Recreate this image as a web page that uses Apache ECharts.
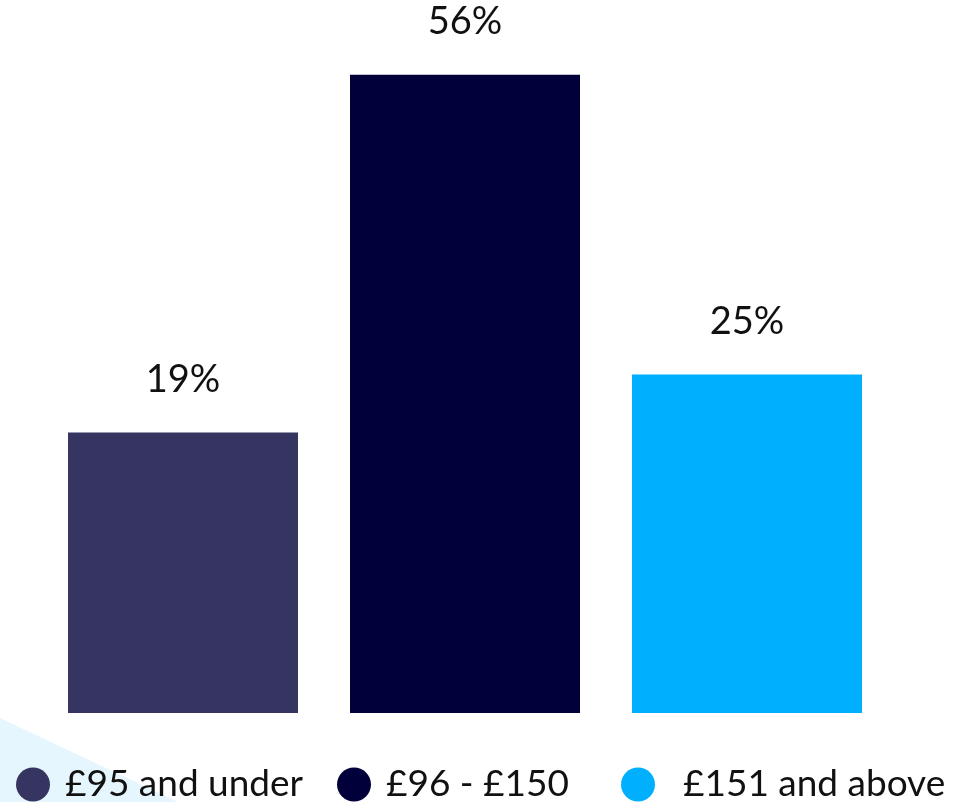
<!DOCTYPE html>
<html>
<head>
<meta charset="utf-8">
<script src="https://cdn.jsdelivr.net/npm/echarts@6/dist/echarts.min.js"></script>
<style>
  html, body { margin: 0; padding: 0; background: #ffffff; }
  #chart { width: 965px; height: 802px; }
</style>
</head>
<body>
<div id="chart"></div>
<script>
// Share of spend by price band
const categories = ['£95 and under', '£96 - £150', '£151 and above'];
const shares = [19, 56, 25];
const colors = ['#363562', '#02003a', '#00b0ff'];

const FONT = 'Lato, "Noto Sans", sans-serif';

const chart = echarts.init(document.getElementById('chart'), null, { renderer: 'canvas' });

// one series per band so each gets its own legend entry; overlapping slots keep bars centred
const series = categories.map((name, i) => ({
  name: name,
  type: 'bar',
  barWidth: 230,
  barGap: '-100%',
  itemStyle: { color: colors[i] },
  label: {
    show: true,
    position: 'top',
    distance: 34,
    formatter: '{c}%',
    fontFamily: FONT,
    fontSize: 38,
    color: '#111111'
  },
  data: categories.map((c, j) => (j === i ? shares[i] : '-'))
}));

const legendX = [16, 337, 621];
const legendTextPad = [10, 10, 23];
const legends = categories.map((name, i) => ({
  data: [{ name: name, icon: 'circle' }],
  left: legendX[i],
  top: 766,
  itemWidth: 34,
  itemHeight: 34,
  itemGap: 0,
  padding: 0,
  textStyle: {
    fontFamily: FONT,
    fontSize: 37,
    color: '#111111',
    padding: [0, 0, 0, legendTextPad[i]]
  }
}));

chart.setOption({
  animation: false,
  backgroundColor: '#ffffff',
  graphic: [{
    type: 'polygon',
    z: -10,
    shape: { points: [[0, 718], [178, 802], [0, 802]] },
    style: { fill: '#e6f6fe' }
  }],
  legend: legends,
  grid: { left: 42, right: 77, top: 36, bottom: 89 },
  xAxis: {
    type: 'category',
    data: categories,
    show: false
  },
  yAxis: {
    type: 'value',
    min: -10,
    max: 60,
    startValue: -10,
    show: false
  },
  series: series
});
</script>
</body>
</html>
